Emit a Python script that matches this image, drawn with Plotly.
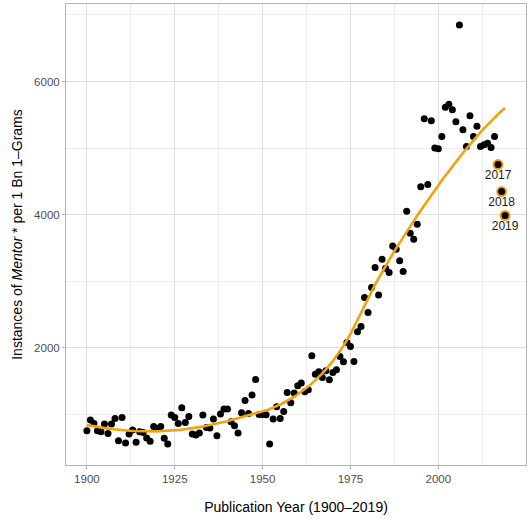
import numpy as np
import plotly.graph_objects as go

# ---- data ----
years = list(range(1900, 2020))
values = [
    754, 915, 865, 754, 740, 855, 715, 855, 940, 604,      # 1900-1909
    955, 570, 705, 765, 580, 740, 730, 645, 595, 820,      # 1910-1919
    790, 820, 640, 555, 990, 955, 865, 1100, 880, 970,     # 1920-1929
    705, 690, 720, 990, 805, 795, 930, 680, 1005, 1080,    # 1930-1939
    1080, 890, 830, 720, 1025, 1210, 1015, 1290, 1525, 998,  # 1940-1949
    1000, 995, 555, 930, 1115, 940, 1045, 1330, 1175, 1320,  # 1950-1959
    1430, 1470, 1340, 1370, 1880, 1605, 1640, 1555, 1655, 1520,  # 1960-1969
    1630, 1670, 1870, 1790, 2080, 2020, 1795, 2240, 2320, 2755,  # 1970-1979
    2530, 2905, 3205, 2795, 3330, 3195, 3130, 3530, 3480, 3310,  # 1980-1989
    3145, 4050, 3720, 3630, 3855, 4420, 5440, 4455, 5410, 5000,  # 1990-1999
    4990, 5175, 5615, 5660, 5575, 5395, 6850, 5275, 5025, 5485,  # 2000-2009
    5175, 5330, 5025, 5050, 5075, 5010, 5175, 4753, 4348, 3988,  # 2010-2019
]
highlight_years = [2017, 2018, 2019]
x_ticks = [1900, 1925, 1950, 1975, 2000]
y_ticks = [2000, 4000, 6000]

x = np.array(years, dtype=float)
y = np.array(values, dtype=float)
hl = np.isin(x, highlight_years)


def loess(xf, yf, xs, span=0.75):
    n = len(xf)
    q = int(np.floor(n * span))
    out = []
    for x0 in xs:
        d = np.abs(xf - x0)
        h = np.sort(d)[q - 1]
        w = np.clip(1 - (d / h) ** 3, 0, None) ** 3
        X = np.vstack([np.ones_like(xf), xf - x0, (xf - x0) ** 2]).T
        W = np.sqrt(w)
        beta, *_ = np.linalg.lstsq(X * W[:, None], yf * W, rcond=None)
        out.append(beta[0])
    return np.array(out)


xs = np.linspace(1900, 2019, 240)
ys = loess(x, y, xs)

ORANGE = "#F3A20C"
FONT = "Liberation Sans, Arial, sans-serif"

fig = go.Figure()
fig.add_trace(go.Scatter(
    x=x[~hl], y=y[~hl], mode="markers",
    marker=dict(color="black", size=7),
    hoverinfo="skip", showlegend=False))
fig.add_trace(go.Scatter(
    x=xs, y=ys, mode="lines",
    line=dict(color=ORANGE, width=2.6),
    hoverinfo="skip", showlegend=False))
fig.add_trace(go.Scatter(
    x=x[hl], y=y[hl], mode="markers",
    marker=dict(color=ORANGE, size=11),
    hoverinfo="skip", showlegend=False))
fig.add_trace(go.Scatter(
    x=x[hl], y=y[hl], mode="markers+text",
    marker=dict(color="black", size=7),
    text=[str(int(v)) for v in x[hl]],
    textposition="bottom center",
    textfont=dict(family=FONT, size=12, color="#1a1a1a"),
    cliponaxis=False,
    hoverinfo="skip", showlegend=False))

grid = "#DEDEDE"
border = "#B3B3B3"
fig.update_layout(
    width=531, height=520,
    margin=dict(l=66, r=5, t=4, b=55),
    plot_bgcolor="white", paper_bgcolor="white",
    font=dict(family=FONT, color="black"),
    xaxis=dict(
        range=[1894.05, 2024.95], tickvals=x_ticks,
        showgrid=True, gridcolor=grid, gridwidth=1,
        minor=dict(dtick=12.5, tick0=1900, showgrid=True, gridcolor="#EBEBEB", gridwidth=0.6),
        ticks="outside", ticklen=3, tickcolor=border,
        tickfont=dict(size=11.5, color="#4D4D4D"),
        showline=True, mirror=True, linecolor=border, linewidth=1,
        zeroline=False, automargin=False,
        title=dict(text="Publication Year (1900–2019)", font=dict(size=14), standoff=18),
    ),
    yaxis=dict(
        range=[240, 7165], tickvals=y_ticks,
        showgrid=True, gridcolor=grid, gridwidth=1,
        minor=dict(dtick=1000, tick0=0, showgrid=True, gridcolor="#EBEBEB", gridwidth=0.6),
        ticks="outside", ticklen=3, tickcolor=border,
        tickfont=dict(size=11.5, color="#4D4D4D"),
        showline=True, mirror=True, linecolor=border, linewidth=1,
        zeroline=False, automargin=False,
        title=dict(text="Instances of <i>Mentor</i> * per 1 Bn 1–Grams", font=dict(size=14), standoff=8),
    ),
)

fig.write_html(
    "out.html",
    config={"displayModeBar": False},
    default_width="531px", default_height="520px",
    post_script="document.body.style.margin='0';document.body.style.overflow='hidden';",
)
